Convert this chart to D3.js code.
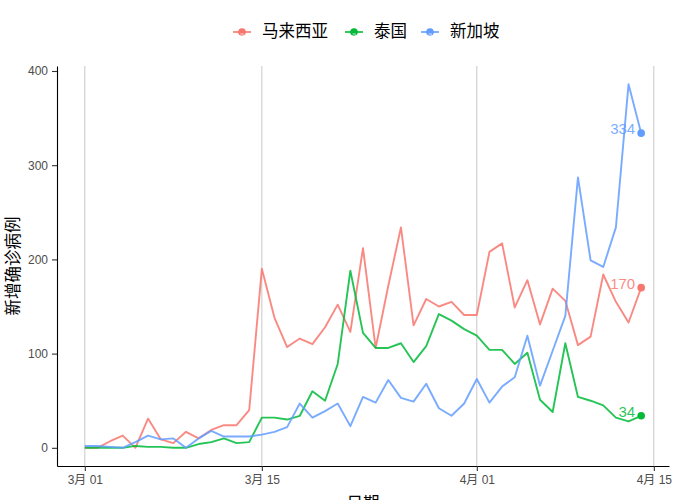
<!DOCTYPE html>
<html>
<head>
<meta charset="utf-8">
<script src="https://cdn.jsdelivr.net/npm/d3@7"></script>
<style>
  body { margin: 0; background: #fff; }
  svg text { font-family: "Liberation Sans", "Noto Sans CJK SC", sans-serif; }
</style>
</head>
<body>
<svg id="canvas" width="700" height="500"></svg>
<script>
// daily new cases, 2020-03-01 .. 2020-04-14
const startDate = new Date(2020, 2, 1);
const countries = ['马来西亚', '泰国', '新加坡'];
const colors = ['#F8766D', '#00BA38', '#619CFF'];

const malaysia = [0, 0, 7, 13, 0, 31, 9, 5, 17, 10, 19, 24, 24, 40, 190,
  138, 107, 116, 110, 128, 152, 123, 212, 106, 172, 234, 130, 158, 150, 155, 141,
  141, 208, 217, 149, 178, 131, 169, 156, 109, 118, 184, 155, 133, 170];
const thailand = [0, 0, 0, 0, 2, 1, 1, 0, 0, 4, 6, 10, 5, 6, 32,
  32, 30, 34, 60, 50, 89, 188, 122, 106, 106, 111, 91, 108, 142, 135, 126,
  119, 104, 104, 89, 101, 51, 38, 111, 54, 50, 45, 32, 28, 34];
const singapore = [2, 2, 1, 0, 6, 13, 9, 10, 0, 10, 18, 12, 12, 12, 14,
  17, 22, 47, 32, 39, 47, 23, 54, 48, 72, 53, 49, 68, 42, 34, 47,
  73, 48, 65, 75, 119, 66, 103, 140, 287, 199, 192, 234, 386, 334];

const seriesValues = [malaysia, thailand, singapore];
const tickDates = [new Date(2020, 2, 1), new Date(2020, 2, 15), new Date(2020, 3, 1), new Date(2020, 3, 15)];
const yTicks = [0, 100, 200, 300, 400];

const dayMs = 24 * 3600 * 1000;
const dateOf = (i) => new Date(startDate.getTime() + i * dayMs);

let canvas = d3.select('#canvas');

const plotLeft = 57, plotRight = 669, plotTop = 66, plotBottom = 466;

// ggplot-like 5% expansion
const lastIdx = malaysia.length - 1;
const padDays = lastIdx * 0.05;
const yMax = d3.max(seriesValues.flat());
const yPad = yMax * 0.05;

let x = d3.scaleTime()
  .domain([dateOf(-padDays), dateOf(lastIdx + padDays)])
  .range([plotLeft, plotRight]);

let y = d3.scaleLinear()
  .domain([-yPad, yMax + yPad])
  .range([plotBottom, plotTop]);

// vertical grid lines
canvas.append('g')
  .selectAll('line')
  .data(tickDates)
  .enter()
  .append('line')
  .attr('x1', (d) => x(d)).attr('x2', (d) => x(d))
  .attr('y1', plotTop).attr('y2', plotBottom)
  .attr('stroke', '#c8c8c8')
  .attr('stroke-width', 1);

// axes
const fmt = (d) => (d.getMonth() + 1) + '月 ' + d3.timeFormat('%d')(d);

let xAxis = canvas.append('g')
  .attr('transform', `translate(0, ${plotBottom})`)
  .call(d3.axisBottom(x).tickValues(tickDates).tickFormat(fmt).tickSize(5).tickPadding(4).tickSizeOuter(0));

let yAxis = canvas.append('g')
  .attr('transform', `translate(${plotLeft}, 0)`)
  .call(d3.axisLeft(y).tickValues(yTicks).tickSize(5).tickPadding(4).tickSizeOuter(0));

[xAxis, yAxis].forEach((ax) => {
  ax.select('.domain').attr('stroke', '#000').attr('stroke-width', 1.1);
  ax.selectAll('.tick line').attr('stroke', '#333').attr('stroke-width', 1.1);
  ax.selectAll('.tick text')
    .attr('fill', '#4D4D4D')
    .style('font-size', '12px')
    .style('font-family', '"Liberation Sans", "Noto Sans CJK SC", sans-serif');
});

// lines
let line = d3.line()
  .x((d, i) => x(dateOf(i)))
  .y((d) => y(d));

seriesValues.forEach((vals, k) => {
  canvas.append('path')
    .datum(vals)
    .attr('d', line)
    .attr('fill', 'none')
    .attr('stroke', colors[k])
    .attr('stroke-opacity', 0.85)
    .attr('stroke-width', 1.9)
    .attr('stroke-linejoin', 'round');

  let lastVal = vals[lastIdx];
  canvas.append('circle')
    .attr('cx', x(dateOf(lastIdx)))
    .attr('cy', y(lastVal))
    .attr('r', 3.8)
    .attr('fill', colors[k]);

  canvas.append('text')
    .attr('x', x(dateOf(lastIdx)) - 6)
    .attr('y', y(lastVal) - 3)
    .attr('text-anchor', 'end')
    .attr('dominant-baseline', 'middle')
    .attr('fill', colors[k])
    .attr('fill-opacity', 0.85)
    .style('font-size', '15px')
    .text(lastVal);
});

// axis titles
canvas.append('text')
  .attr('transform', `translate(15, ${(plotTop + plotBottom) / 2}) rotate(-90)`)
  .attr('text-anchor', 'middle')
  .attr('dominant-baseline', 'middle')
  .attr('fill', '#000')
  .style('font-size', '16.5px')
  .text('新增确诊病例');

canvas.append('text')
  .attr('x', (plotLeft + plotRight) / 2)
  .attr('y', 509)
  .attr('text-anchor', 'middle')
  .attr('fill', '#000')
  .style('font-size', '16.5px')
  .text('日期');

// legend
const legendX = [233, 345, 421];
let legend = canvas.append('g');
countries.forEach((name, k) => {
  let g = legend.append('g').attr('transform', `translate(${legendX[k]}, 32)`);
  g.append('line')
    .attr('x1', 0).attr('x2', 18)
    .attr('stroke', colors[k]).attr('stroke-width', 1.9).attr('stroke-opacity', 0.85);
  g.append('circle').attr('cx', 9).attr('cy', 0).attr('r', 3.8).attr('fill', colors[k]);
  g.append('text')
    .attr('x', 9).attr('y', 3)
    .attr('text-anchor', 'middle')
    .attr('dominant-baseline', 'middle')
    .attr('fill', '#fff')
    .attr('fill-opacity', 0.6)
    .style('font-size', '8px')
    .text('a');
  g.append('text')
    .attr('x', 29).attr('y', 1)
    .attr('dominant-baseline', 'middle')
    .attr('fill', '#000')
    .style('font-size', '16.5px')
    .text(name);
});
</script>
</body>
</html>
